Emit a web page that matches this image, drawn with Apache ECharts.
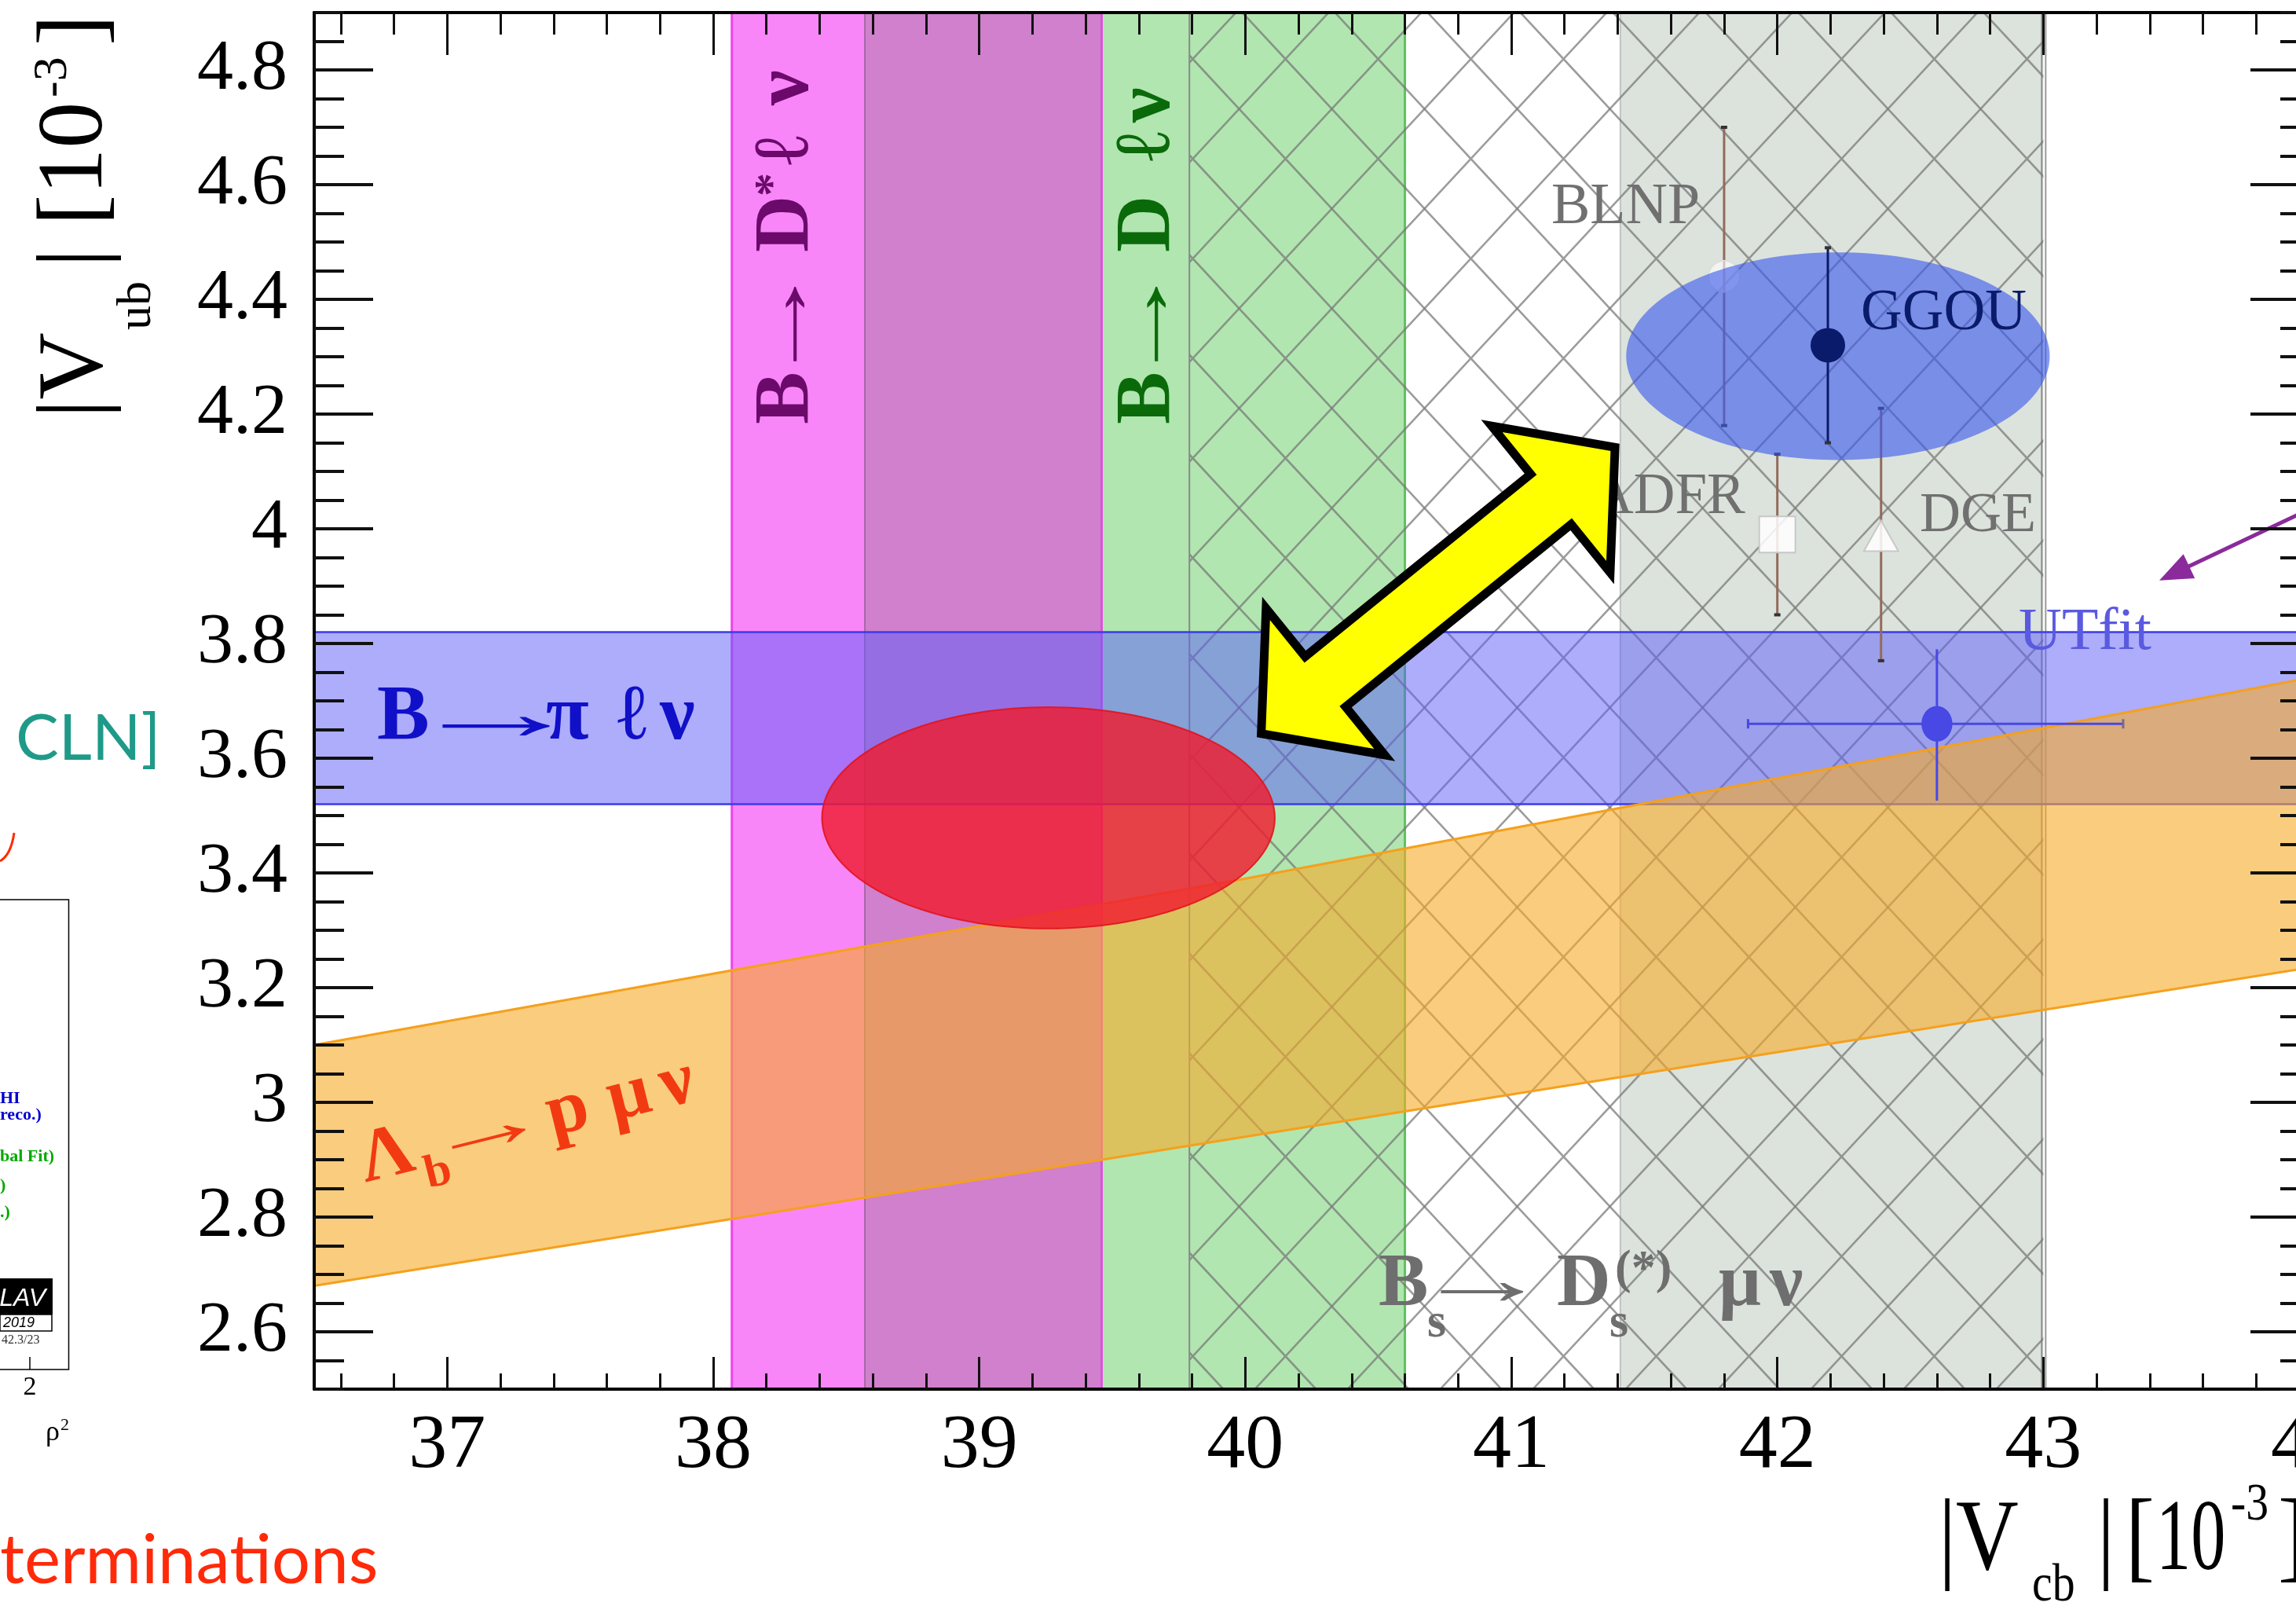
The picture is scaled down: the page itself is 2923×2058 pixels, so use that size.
<!DOCTYPE html>
<html><head><meta charset="utf-8">
<script src="https://cdn.jsdelivr.net/npm/echarts@6/dist/echarts.min.js"></script>
<style>html,body{margin:0;padding:0;background:#fff}#c{width:2923px;height:2058px}</style>
</head><body><div id="c"></div>
<script>
// ---------------- data ----------------
const X_MIN = 36.5, X_MAX = 44.0, Y_MIN = 2.5, Y_MAX = 4.9;
const xTickLabels = [37, 38, 39, 40, 41, 42, 43, 44];
const yTickLabels = [2.6, 2.8, 3.0, 3.2, 3.4, 3.6, 3.8, 4.0, 4.2, 4.4, 4.6, 4.8];
const xMinorStep = 0.2, yMinorStep = 0.05;

// |Vcb| vertical bands [from, to]
const bDstarBand = [38.07, 39.46];
const bDstarInnerBand = [38.57, 39.46];
const bDBand = [39.46, 40.60];
const bsDsBand = [39.79, 43.00];
const inclusiveBand = [41.41, 43.00];
// |Vub| horizontal band
const bPiBand = [3.52, 3.82];
// Lambda_b -> p mu nu band edges
const lambdaVcb = [36.5, 40.0, 44.0];
const lambdaLowerVub = [2.68, 2.94, 3.235];
const lambdaUpperVub = [3.10, 3.39, 3.74];
// inclusive |Vub| determinations
const inclNames = ['BLNP', 'GGOU', 'ADFR', 'DGE'];
const inclVcb = [41.80, 42.19, 42.00, 42.39];
const inclVub = [4.44, 4.32, 3.99, 3.98];
const inclLow = [4.18, 4.15, 3.85, 3.77];
const inclHigh = [4.70, 4.49, 4.13, 4.21];
// UTfit point
const utfitPoint = [42.60, 3.66];
const utfitVcbRange = [41.89, 43.30];
const utfitVubRange = [3.526, 3.79];
// highlight ellipses [cVcb, cVub, halfVcb, halfVub]
const exclusiveEllipse = [39.26, 3.496, 0.851, 0.193];
const inclusiveEllipse = [42.228, 4.301, 0.796, 0.181];
// annotation arrows [fromVcb, fromVub, toVcb, toVub]
const tensionArrow = [40.06, 3.643, 41.39, 4.142];
const utfitArrow = [44.0, 4.034, 43.436, 3.910];

// ---------------- helpers ----------------
function steps(min, max, step) {
  const out = [];
  for (let k = Math.ceil(min / step - 1e-9); k * step <= max + 1e-9; k++) out.push(+(k * step).toFixed(3));
  return out;
}
const xMinor = steps(X_MIN, X_MAX, xMinorStep);
const yMinor = steps(Y_MIN, Y_MAX, yMinorStep);

const SERIF = "'Liberation Serif'";
function T(s, x, base, size, fill, o) {
  o = o || {};
  const fam = o.fam || SERIF;
  const k = o.k != null ? o.k : 0.3375;
  const el = {type: 'text', x: x, y: base - k * size, z: o.z || 30, silent: true,
    style: {text: s, font: (o.it ? 'italic ' : '') + (o.bold ? 'bold ' : '') + size + 'px ' + fam,
      fill: fill, align: o.align || 'left', verticalAlign: 'middle'}};
  if (o.sx) { el.scaleX = o.sx; el.originX = 0; el.originY = 0; }
  return el;
}
// long reaction arrow: glyph centred at cx, stretched horizontally
function ARROW(cx, base, size, fill, sx) {
  return T('→', cx, base, size, fill, {align: 'center', sx: sx});
}

function makeHatch() {
  const W = 118, H = 127, c = document.createElement('canvas');
  c.width = W; c.height = H;
  const g = c.getContext('2d');
  g.strokeStyle = 'rgba(118,118,118,0.72)'; g.lineWidth = 2.6;
  const ox = 43.5, oy = 11.6;
  for (const dx of [-W, 0, W]) for (const dy of [-H, 0, H]) {
    g.beginPath();
    g.moveTo(ox + dx, oy + dy); g.lineTo(ox + dx + W, oy + dy + H);
    g.moveTo(ox + dx + W, oy + dy); g.lineTo(ox + dx, oy + dy + H);
    g.stroke();
  }
  return c;
}
const hatchPattern = {image: makeHatch(), repeat: 'repeat'};

function vBand(band, fill, z, edges) {
  return {type: 'custom', z: z, silent: true, data: [band], renderItem: function (p, api) {
    const a = api.coord([api.value(0), Y_MAX]), b = api.coord([api.value(1), Y_MIN]);
    const ch = [{type: 'rect', shape: {x: a[0], y: a[1], width: b[0] - a[0], height: b[1] - a[1]}, style: {fill: fill}}];
    (edges || []).forEach(function (e) {
      const xx = e[0] === 0 ? a[0] : b[0];
      ch.push({type: 'line', shape: {x1: xx + (e[3] || 0), y1: a[1], x2: xx + (e[3] || 0), y2: b[1]}, style: {stroke: e[1], lineWidth: e[2]}});
    });
    return {type: 'group', children: ch};
  }};
}

function ellipsePts(api, e) {
  const c = api.coord([e[0], e[1]]);
  const s = api.size([e[2], e[3]]);
  const pts = [];
  for (let k = 0; k < 160; k++) {
    const t = k / 160 * Math.PI * 2;
    pts.push([c[0] + s[0] * Math.cos(t), c[1] + s[1] * Math.sin(t)]);
  }
  return pts;
}

function renderIncl(p, api) {
  const i = api.value(4);
  const x = api.value(0);
  const pc = api.coord([x, api.value(1)]);
  const pl = api.coord([x, api.value(2)]);
  const ph = api.coord([x, api.value(3)]);
  const col = i === 1 ? '#0b1b6b' : '#946a5c';
  const ch = [
    {type: 'line', shape: {x1: pl[0], y1: pl[1], x2: ph[0], y2: ph[1]}, style: {stroke: col, lineWidth: 3}},
    {type: 'line', shape: {x1: ph[0] - 4, y1: ph[1], x2: ph[0] + 4, y2: ph[1]}, style: {stroke: '#333', lineWidth: 4}},
    {type: 'line', shape: {x1: pl[0] - 4, y1: pl[1], x2: pl[0] + 4, y2: pl[1]}, style: {stroke: '#333', lineWidth: 4}}
  ];
  if (i === 0) ch.push({type: 'circle', shape: {cx: pc[0], cy: pc[1], r: 20}, style: {fill: 'rgba(255,255,255,0.6)', stroke: '#dddddd', lineWidth: 2}});
  if (i === 1) ch.push({type: 'circle', shape: {cx: pc[0], cy: pc[1], r: 22}, style: {fill: '#0b1b6b'}});
  if (i === 2) ch.push({type: 'rect', shape: {x: pc[0] - 23, y: pc[1] - 23, width: 46, height: 46}, style: {fill: 'rgba(255,255,255,0.85)', stroke: '#c8c8c8', lineWidth: 2}});
  if (i === 3) ch.push({type: 'polygon', shape: {points: [[pc[0], pc[1] - 25], [pc[0] + 22, pc[1] + 14], [pc[0] - 22, pc[1] + 14]]}, style: {fill: 'rgba(255,255,255,0.85)', stroke: '#c8c8c8', lineWidth: 2}});
  return {type: 'group', children: ch};
}
const inclData = inclVcb.map(function (v, i) { return [v, inclVub[i], inclLow[i], inclHigh[i], i]; });

// ---------------- axes ----------------
function mkX(position, len, vals, line, labels) {
  return {type: 'value', position: position, min: X_MIN, max: X_MAX, z: 50, gridIndex: 0,
    axisLine: {show: line, onZero: false, lineStyle: {color: '#000', width: 4}},
    axisTick: {show: true, inside: true, length: len, customValues: vals, lineStyle: {color: '#111', width: 3}},
    axisLabel: {show: labels, customValues: vals, margin: 24, fontSize: 98, fontFamily: 'Liberation Serif', color: '#000'},
    splitLine: {show: false}, minorTick: {show: false}, minorSplitLine: {show: false}};
}
function mkY(position, len, vals, line, labels) {
  return {type: 'value', position: position, min: Y_MIN, max: Y_MAX, z: 50, gridIndex: 0,
    axisLine: {show: line, onZero: false, lineStyle: {color: '#000', width: 4}},
    axisTick: {show: true, inside: true, length: len, customValues: vals, lineStyle: {color: '#111', width: 4}},
    axisLabel: {show: labels, customValues: vals, margin: 34, fontSize: 92, fontFamily: 'Liberation Serif', color: '#000'},
    splitLine: {show: false}, minorTick: {show: false}, minorSplitLine: {show: false}};
}

// ---------------- series ----------------
const series = [
  vBand(bDstarBand, '#f986f8', 1, [[0, '#ee44ee', 3]]),
  vBand(bDstarInnerBand, '#d080cc', 1, [[0, '#a868a8', 2]]),
  vBand(bDBand, '#b1e6b0', 1, [[0, '#e050e0', 3], [1, '#5cc45c', 3]]),
  vBand(inclusiveBand, '#dce3dc', 1, [[0, '#c0c4c0', 2], [1, '#8a8a8a', 2, -2], [1, '#9a9a9a', 2, 3]]),
  vBand(bsDsBand, hatchPattern, 2, [[0, '#888888', 2]]),
  {type: 'custom', z: 4, silent: true, data: [bPiBand], renderItem: function (p, api) {
    const a = api.coord([X_MIN, api.value(1)]), b = api.coord([X_MAX, api.value(0)]);
    return {type: 'group', children: [
      {type: 'rect', shape: {x: a[0], y: a[1], width: b[0] - a[0], height: b[1] - a[1]}, style: {fill: 'rgba(92,92,250,0.5)'}},
      {type: 'line', shape: {x1: a[0], y1: a[1], x2: b[0], y2: a[1]}, style: {stroke: '#3b3bea', lineWidth: 2.5}},
      {type: 'line', shape: {x1: a[0], y1: b[1], x2: b[0], y2: b[1]}, style: {stroke: '#3b3bea', lineWidth: 2.5}}
    ]};
  }},
  {type: 'custom', z: 5, silent: true, data: [0], renderItem: function (p, api) {
    const lower = lambdaVcb.map(function (v, i) { return api.coord([v, lambdaLowerVub[i]]); });
    const upper = lambdaVcb.map(function (v, i) { return api.coord([v, lambdaUpperVub[i]]); });
    return {type: 'group', children: [
      {type: 'polygon', shape: {points: lower.concat(upper.slice().reverse())}, style: {fill: 'rgba(247,170,40,0.6)'}},
      {type: 'polyline', shape: {points: lower}, style: {stroke: '#f5a01c', lineWidth: 3, fill: null}},
      {type: 'polyline', shape: {points: upper}, style: {stroke: '#f5a01c', lineWidth: 3, fill: null}}
    ]};
  }},
  {type: 'custom', z: 6, silent: true, data: [exclusiveEllipse], renderItem: function (p, api) {
    return {type: 'polygon', shape: {points: ellipsePts(api, [api.value(0), api.value(1), api.value(2), api.value(3)])},
      style: {fill: 'rgba(240,28,48,0.82)', stroke: 'rgba(225,20,30,0.9)', lineWidth: 2}};
  }},
  {type: 'custom', z: 7, silent: true, data: inclData.filter(function (r) { return r[4] !== 1; }), renderItem: renderIncl},
  {type: 'custom', z: 7, silent: true, data: [[utfitPoint[0], utfitPoint[1], utfitVcbRange[0], utfitVcbRange[1], utfitVubRange[0], utfitVubRange[1]]], renderItem: function (p, api) {
    const c = api.coord([api.value(0), api.value(1)]);
    const l = api.coord([api.value(2), api.value(1)]), r = api.coord([api.value(3), api.value(1)]);
    const d = api.coord([api.value(0), api.value(4)]), u = api.coord([api.value(0), api.value(5)]);
    const col = '#4848e4';
    return {type: 'group', children: [
      {type: 'line', shape: {x1: l[0], y1: l[1], x2: r[0], y2: r[1]}, style: {stroke: col, lineWidth: 3}},
      {type: 'line', shape: {x1: d[0], y1: d[1], x2: u[0], y2: u[1]}, style: {stroke: col, lineWidth: 3}},
      {type: 'line', shape: {x1: l[0], y1: l[1] - 6, x2: l[0], y2: l[1] + 6}, style: {stroke: col, lineWidth: 3}},
      {type: 'line', shape: {x1: r[0], y1: r[1] - 6, x2: r[0], y2: r[1] + 6}, style: {stroke: '#7a6a8a', lineWidth: 3}},
      {type: 'polygon', shape: {points: ellipsePts(api, [api.value(0), api.value(1), 0.058, 0.031])}, style: {fill: col}}
    ]};
  }},
  {type: 'custom', z: 8, silent: true, data: [inclusiveEllipse], renderItem: function (p, api) {
    return {type: 'polygon', shape: {points: ellipsePts(api, [api.value(0), api.value(1), api.value(2), api.value(3)])},
      style: {fill: 'rgba(60,90,235,0.62)'}};
  }},
  {type: 'custom', z: 9, silent: true, data: inclData.filter(function (r) { return r[4] === 1; }), renderItem: renderIncl},
  {type: 'custom', z: 40, silent: true, data: [tensionArrow], renderItem: function (p, api) {
    const a = api.coord([api.value(0), api.value(1)]), b = api.coord([api.value(2), api.value(3)]);
    const dx = b[0] - a[0], dy = b[1] - a[1], L = Math.hypot(dx, dy), ux = dx / L, uy = dy / L, nx = -uy, ny = ux;
    const HL = 105, HW = 120, SW = 41;
    const P = function (s, t) { return [a[0] + ux * s + nx * t, a[1] + uy * s + ny * t]; };
    return {type: 'polygon', shape: {points: [P(0, 0), P(HL, -HW), P(HL, -SW), P(L - HL, -SW), P(L - HL, -HW), P(L, 0), P(L - HL, HW), P(L - HL, SW), P(HL, SW), P(HL, HW)]},
      style: {fill: '#ffff00', stroke: '#000', lineWidth: 11, lineJoin: 'miter', miterLimit: 10}};
  }},
  {type: 'custom', z: 40, silent: true, data: [utfitArrow], renderItem: function (p, api) {
    const a = api.coord([api.value(0), api.value(1)]), b = api.coord([api.value(2), api.value(3)]);
    const dx = b[0] - a[0], dy = b[1] - a[1], L = Math.hypot(dx, dy), ux = dx / L, uy = dy / L, nx = -uy, ny = ux;
    const base = [b[0] - ux * 42, b[1] - uy * 42];
    return {type: 'group', children: [
      {type: 'line', shape: {x1: a[0], y1: a[1], x2: base[0] + ux * 5, y2: base[1] + uy * 5}, style: {stroke: '#8b2a9b', lineWidth: 5}},
      {type: 'polygon', shape: {points: [b, [base[0] + nx * 17, base[1] + ny * 17], [base[0] - nx * 17, base[1] - ny * 17]]}, style: {fill: '#8b2a9b'}}
    ]};
  }}
];

// ---------------- text / annotations ----------------
const graphics = [
  // slide context on the left
  T('CLN]', 20, 972, 82, '#1f9a89', {fam: 'Lato', k: 0.387}),
  {type: 'bezierCurve', z: 30, silent: true, shape: {x1: 0, y1: 1096, x2: 18, y2: 1060, cpx1: 14, cpy1: 1088}, style: {stroke: '#ff2a00', lineWidth: 3, fill: null}},
  {type: 'polyline', z: 30, silent: true, shape: {points: [[0, 1145], [87.5, 1145], [87.5, 1743], [0, 1743]]}, style: {stroke: '#000', lineWidth: 1.5, fill: null}},
  {type: 'line', z: 30, silent: true, shape: {x1: 38, y1: 1727, x2: 38, y2: 1743}, style: {stroke: '#000', lineWidth: 1.5}},
  T('2', 38, 1778, 34, '#000', {align: 'center'}),
  T('ρ', 58, 1836, 36, '#000'),
  T('2', 77, 1822, 22, '#000'),
  T('HI', 0, 1406, 22, '#0000cc', {bold: true}),
  T('reco.)', 0, 1427, 22, '#0000cc', {bold: true}),
  T('bal Fit)', 0, 1480, 22, '#00aa00', {bold: true}),
  T(')', 0, 1517, 22, '#00aa00', {bold: true}),
  T('.)', 0, 1551, 22, '#00aa00', {bold: true}),
  {type: 'rect', z: 30, silent: true, shape: {x: 0, y: 1627, width: 67, height: 46}, style: {fill: '#000'}},
  T('LAV', 58, 1664, 32, '#fff', {fam: "'Liberation Sans'", it: true, k: 0.3465, align: 'right'}),
  {type: 'rect', z: 30, silent: true, shape: {x: 0, y: 1673, width: 66, height: 21}, style: {fill: '#fff', stroke: '#000', lineWidth: 1.5}},
  T('2019', 4, 1690, 18, '#000', {fam: "'Liberation Sans'", it: true, k: 0.3465}),
  T('42.3/23', 2, 1711, 16, '#333'),
  T('terminations', 0, 2021, 87, '#ff2a0a', {fam: 'Lato', k: 0.387}),

  // y axis title (rotated)
  {type: 'group', x: 97, y: 532, rotation: Math.PI / 2, z: 30, children: [
    T('|V', 0, 41, 118, '#000'),
    T('ub', 112, 99, 62, '#000'),
    T('|', 192, 41, 118, '#000'),
    T('[10', 245, 41, 118, '#000'),
    T('-3', 408, -8, 62, '#000'),
    T(']', 474, 41, 118, '#000')
  ]},
  // x axis title
  T('|V', 2468, 2007, 130, '#000', {sx: 0.85}),
  T('cb', 2587, 2042, 68, '#000', {sx: 0.85}),
  T('|', 2670, 2007, 130, '#000', {sx: 0.85}),
  T('[', 2706, 2007, 130, '#000', {sx: 0.85}),
  T('10', 2745, 2007, 130, '#000', {sx: 0.68}),
  T('-3', 2840, 1939, 68, '#000', {sx: 0.85}),
  T(']', 2900, 2007, 130, '#000', {sx: 0.85}),

  // band labels
  {type: 'group', x: 999, y: 540, rotation: Math.PI / 2, z: 30, children: [
    T('B', 0, 37, 100, '#6b0a6b', {bold: true}),
    ARROW(128, 37, 100, '#6b0a6b', 1.6),
    T('D', 219, 37, 100, '#6b0a6b', {bold: true}),
    T('*', 290, 7, 60, '#6b0a6b', {bold: true}),
    T('ℓ', 330, 37, 100, '#6b0a6b', {bold: true}),
    T('ν', 406, 37, 100, '#6b0a6b', {bold: true})
  ]},
  {type: 'group', x: 1462, y: 540, rotation: Math.PI / 2, z: 30, children: [
    T('B', 0, 34, 100, '#0a6a0a', {bold: true}),
    ARROW(128, 34, 100, '#0a6a0a', 1.6),
    T('D', 219, 34, 100, '#0a6a0a', {bold: true}),
    T('ℓ', 335, 34, 100, '#0a6a0a', {bold: true}),
    T('ν', 384, 34, 100, '#0a6a0a', {bold: true})
  ]},
  T('B', 480, 948, 100, '#1010c8', {bold: true}),
  ARROW(632, 948, 100, '#1010c8', 2.3),
  T('π', 695, 948, 100, '#1010c8', {bold: true}),
  T('ℓ', 786, 948, 100, '#1010c8', {bold: true}),
  T('ν', 840, 948, 100, '#1010c8', {bold: true}),
  {type: 'group', x: 467, y: 1512, rotation: 0.244, z: 30, children: [
    T('Λ', 0, 0, 95, '#f23a12', {bold: true}),
    T('b', 76, 24, 60, '#f23a12', {bold: true}),
    ARROW(166, -2, 90, '#f23a12', 1.8),
    T('p', 245, 0, 95, '#f23a12', {bold: true}),
    T('μ', 325, 0, 95, '#f23a12', {bold: true}),
    T('ν', 394, 0, 95, '#f23a12', {bold: true})
  ]},
  T('B', 1755, 1669, 95, '#6e6e6e', {bold: true}),
  T('s', 1817, 1706, 62, '#6e6e6e', {bold: true}),
  ARROW(1887, 1667, 95, '#6e6e6e', 1.86),
  T('D', 1982, 1669, 95, '#6e6e6e', {bold: true}),
  T('s', 2049, 1706, 62, '#6e6e6e', {bold: true}),
  T('(*)', 2056, 1638, 62, '#6e6e6e', {bold: true}),
  T('μ', 2188, 1669, 95, '#6e6e6e', {bold: true}),
  T('ν', 2253, 1669, 95, '#6e6e6e', {bold: true}),
  T(inclNames[0], 1975, 290, 74, '#707070'),
  T(inclNames[1], 2369, 424, 73, '#0b1b6b'),
  T(inclNames[2], 2027, 658, 73, '#707070'),
  T(inclNames[3], 2444, 681, 72, '#707070'),
  T('UTfit', 2570, 832, 76, '#5a5ae0')
];

const chart = echarts.init(document.getElementById('c'), null, {renderer: 'canvas', width: 2923, height: 2058});
chart.setOption({
  animation: false,
  backgroundColor: '#ffffff',
  grid: {left: 400, top: 16, right: -17, bottom: 290, containLabel: false, outerBoundsMode: 'none', show: false},
  xAxis: [
    mkX('bottom', 41, xTickLabels, true, true),
    mkX('bottom', 20, xMinor, false, false),
    mkX('top', 54, xTickLabels, true, false),
    mkX('top', 28, xMinor, false, false)
  ],
  yAxis: [
    mkY('left', 75, yTickLabels, true, true),
    mkY('left', 38, yMinor, false, false),
    mkY('right', 75, yTickLabels, true, false),
    mkY('right', 37, yMinor, false, false)
  ],
  series: series,
  graphic: {elements: graphics}
});
</script>
</body></html>
